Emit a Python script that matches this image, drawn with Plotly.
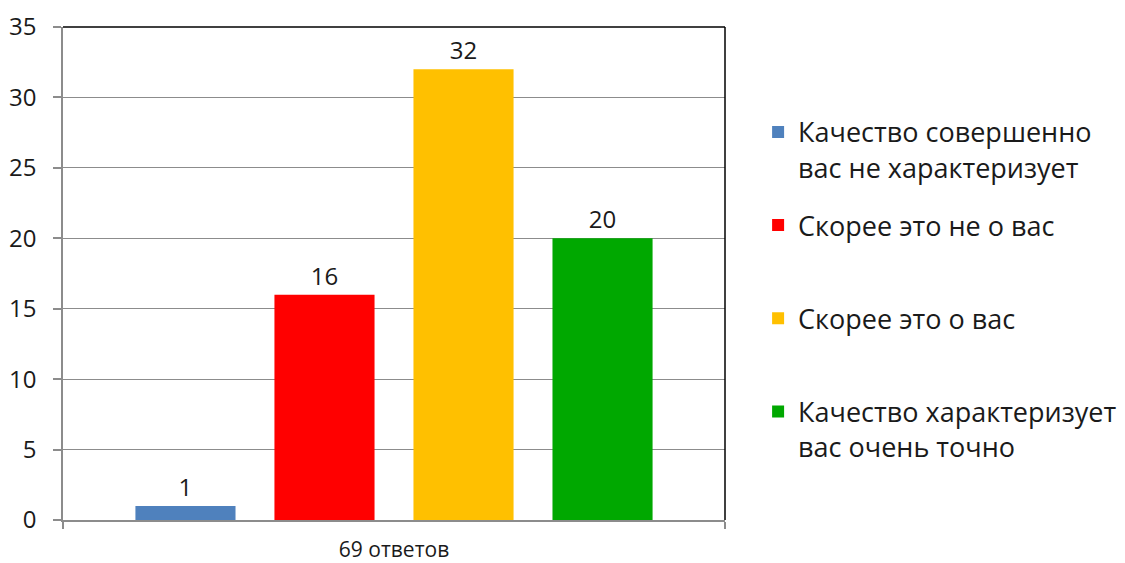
import plotly.graph_objects as go

category = ["69 ответов"]
series_names = [
    "Качество совершенно<br>вас не характеризует",
    "Скорее это не о вас<br> ",
    "Скорее это о вас<br> ",
    "Качество характеризует<br>вас очень точно",
]
series_values = [1, 16, 32, 20]
series_colors = ["#4F81BD", "#FF0000", "#FFC000", "#00A800"]

FONT = "Open Sans"
fig = go.Figure()
for i, (name, val, col) in enumerate(zip(series_names, series_values, series_colors)):
    fig.add_trace(go.Bar(
        x=category, y=[val], name=name, marker=dict(color=col, line=dict(width=0)),
        text=[str(val)], textposition="outside", cliponaxis=False,
        textfont=dict(size=24, color="#1a1a1a", family=FONT),
        legendgroup=f"g{i}", hoverinfo="skip",
    ))

fig.update_layout(
    width=1117, height=555,
    margin=dict(l=55, r=400, t=19, b=43, autoexpand=False),
    paper_bgcolor="white", plot_bgcolor="white",
    barmode="group", bargap=0.16, bargroupgap=0.28,
    font=dict(family=FONT, size=24, color="#1a1a1a"),
    showlegend=True,
    legend=dict(
        x=1.05, xanchor="left", y=0.836, yanchor="top",
        xref="paper", yref="paper",
        font=dict(size=27, family=FONT, color="#1a1a1a"),
        tracegroupgap=20, valign="top", itemwidth=30,
        bgcolor="rgba(0,0,0,0)", traceorder="grouped",
    ),
    xaxis=dict(
        automargin=False,
        showline=True, linecolor="#8c8c8c", linewidth=1.5,
        ticks="outside", tickson="boundaries", ticklen=7, tickcolor="#8c8c8c", tickwidth=1.5,
        showgrid=False, tickfont=dict(size=21, family=FONT), ticklabelstandoff=10,
    ),
    yaxis=dict(
        automargin=False,
        range=[0, 35], dtick=5, showline=True, linecolor="#8c8c8c", linewidth=1.5,
        ticks="outside", ticklen=8, tickcolor="#8c8c8c", tickwidth=1.5,
        showgrid=True, gridcolor="#8c8c8c", gridwidth=1, zeroline=False,
        tickfont=dict(size=24, family=FONT), ticklabelstandoff=12,
    ),
    shapes=[
        dict(type="line", xref="paper", yref="paper", x0=0, x1=1, y0=1, y1=1,
             line=dict(color="black", width=1.5)),
        dict(type="line", xref="paper", yref="paper", x0=1, x1=1, y0=0, y1=1,
             line=dict(color="black", width=1.5)),
    ],
)

fig.write_html("out.html")
